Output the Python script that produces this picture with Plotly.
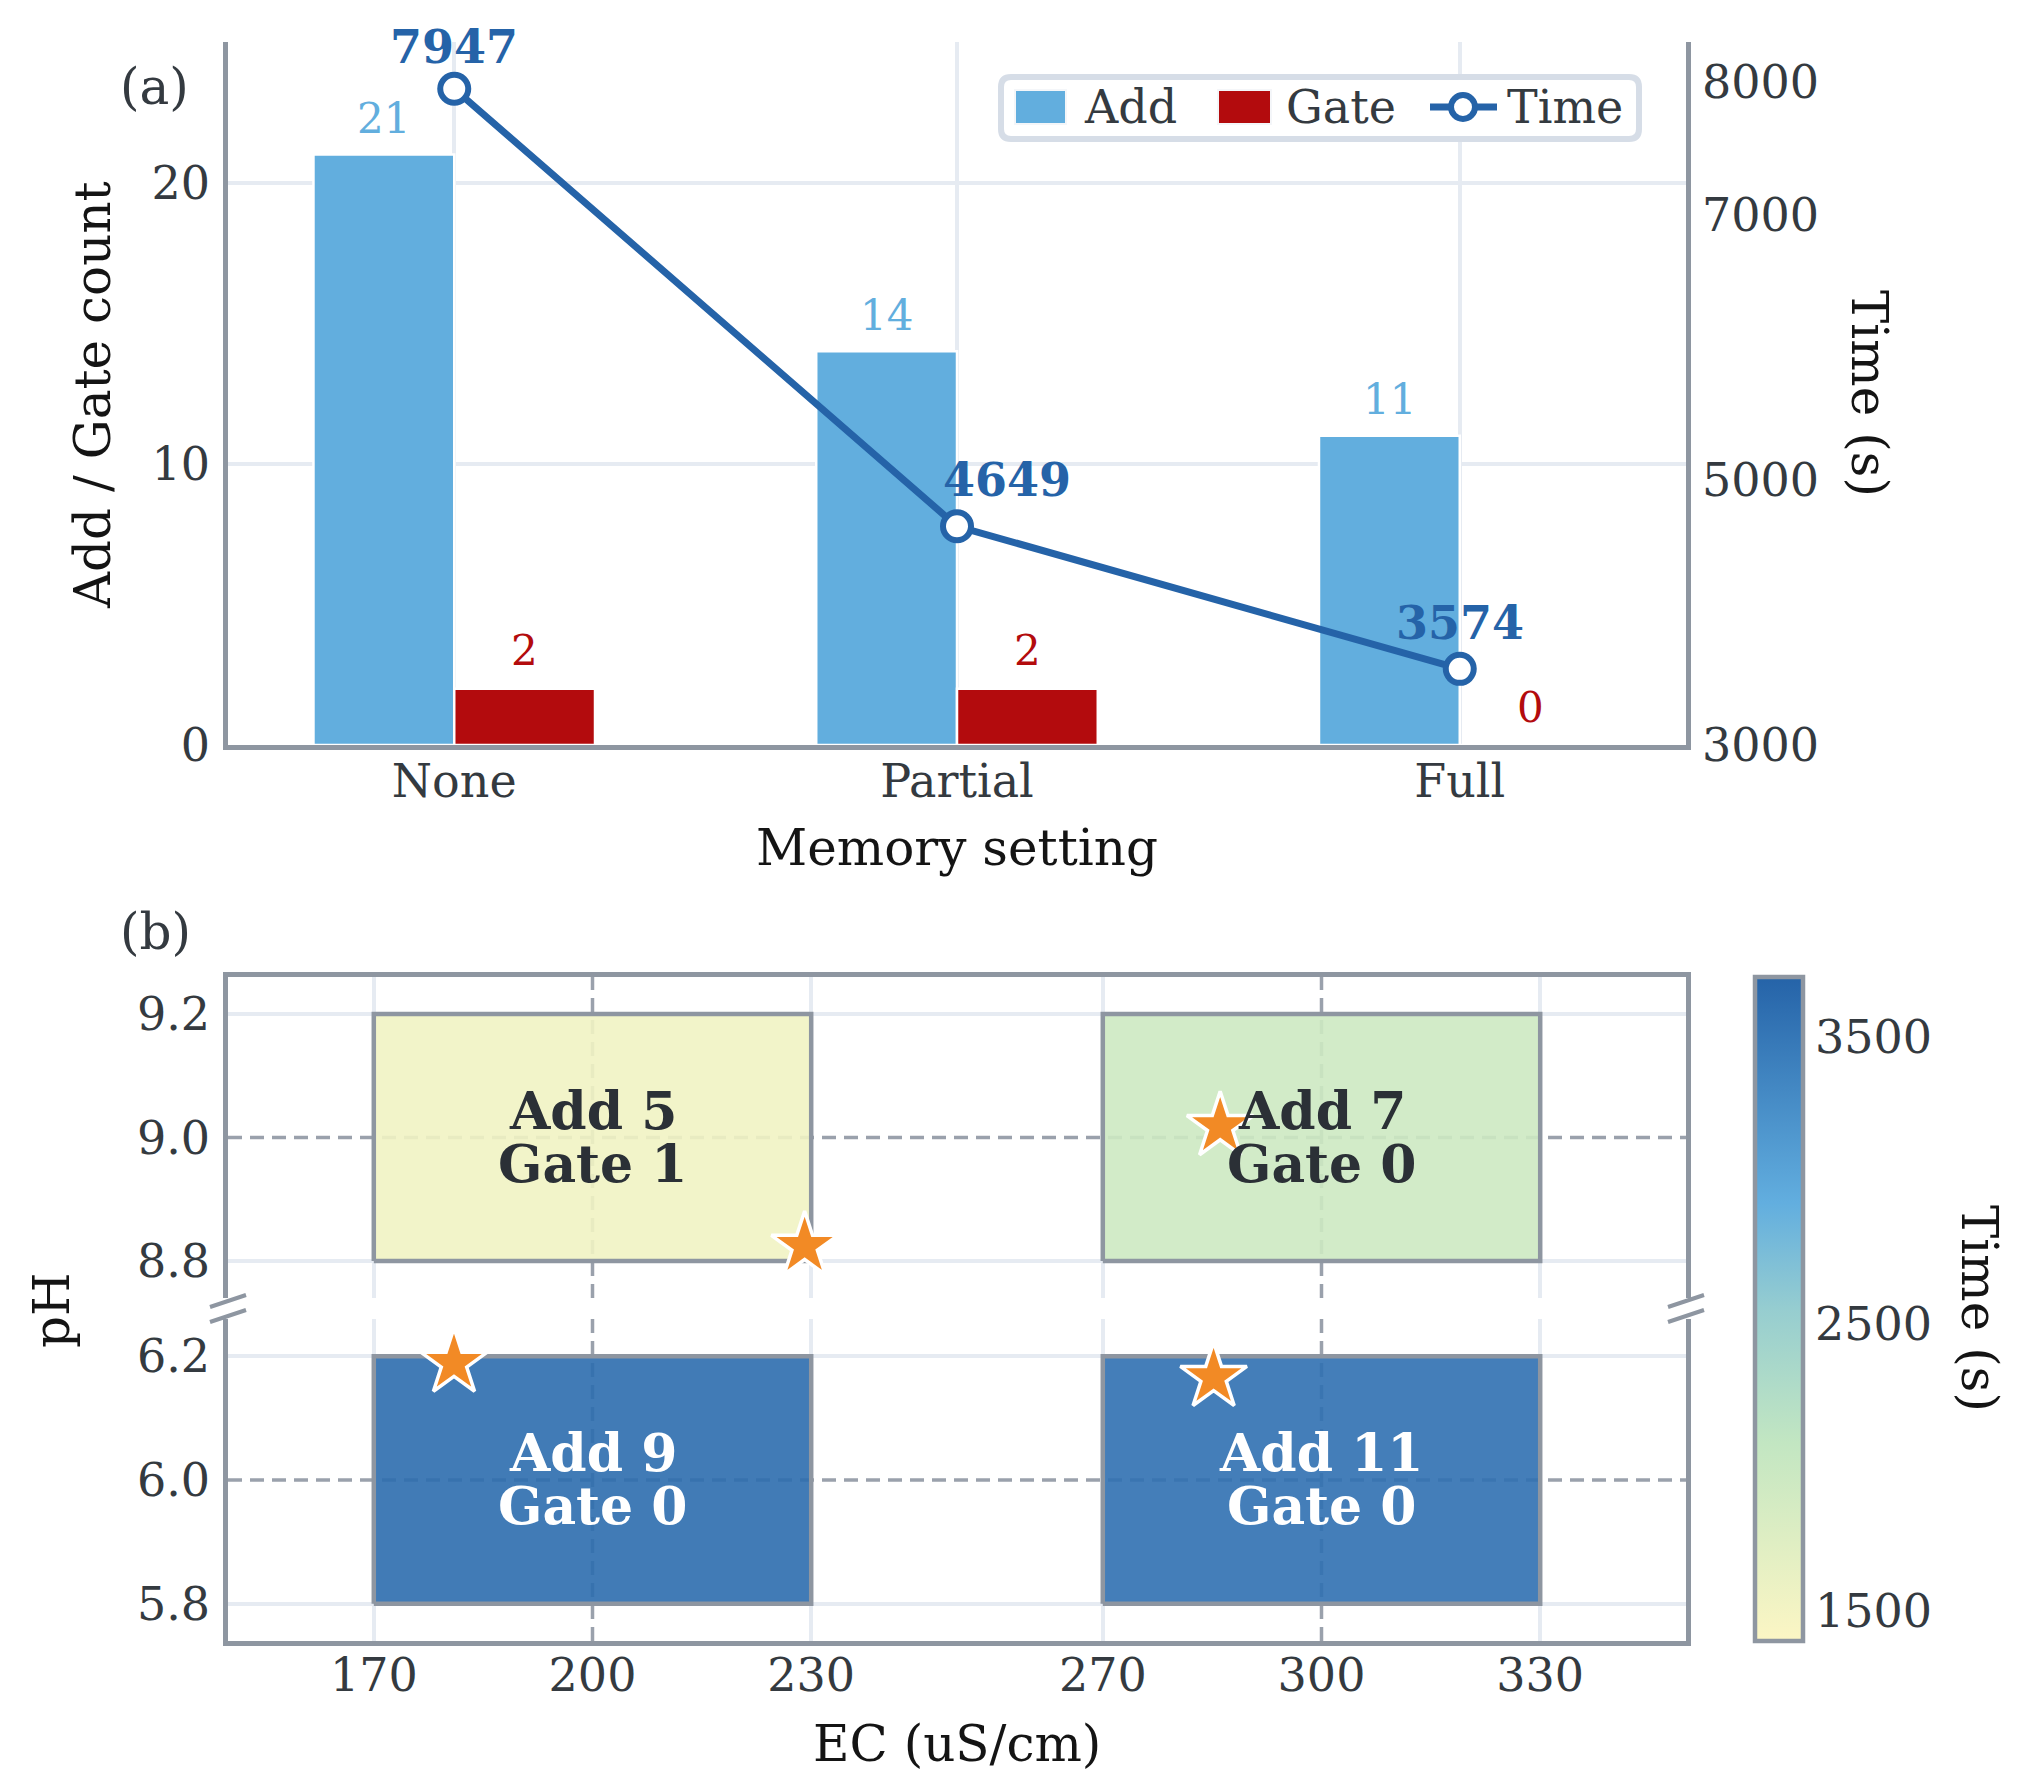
import plotly.graph_objects as go

# panel (a): effect of memory setting
memory = ["None", "Partial", "Full"]
add_count = [21, 14, 11]
gate_count = [2, 2, 0]
time_s = [7947, 4649, 3574]

# panel (b): EC / pH grid
ec_edges = [170, 230, 270, 330]
ph_high = [8.8, 9.2]
ph_low = [5.8, 6.2]
add_high = [5, 7]
gate_high = [1, 0]
time_high = [1530, 1950]
add_low = [9, 11]
gate_low = [0, 0]
time_low = [3610, 3574]
ec_ref = [200, 300]
ph_ref = [9.0, 6.0]
star_ec = [229.1, 181.0, 286.1, 285.2]
star_ph = [8.824, 6.189, 9.018, 6.166]

W, H = 2023, 1792
FONT = "DejaVu Serif"
INK = "#343a40"
TITLE = "#141414"
SPINE = "#8e96a1"
GRID = "#e6ebf2"
DASH = "#9aa1ac"
ADD_C = "#62aede"
GATE_C = "#b30b0d"
TIME_C = "#2563a8"
STAR_C = "#f28a25"
SCALE = [[0.0, "#fcf6c4"], [0.3, "#c2e6c2"], [0.5, "#96cdd0"],
         [0.66, "#62aedf"], [1.0, "#2563a8"]]


def fx(v):
    return v / W


def fy(v):
    return 1 - v / H


XDOM = [fx(228), fx(1686)]
A_DOM = [fy(745), fy(42)]
BU_DOM = [fy(1298), fy(977)]
BL_DOM = [fy(1641), fy(1319)]

fig = go.Figure()

# bars + time line
fig.add_trace(go.Bar(x=memory, y=add_count, name="Add", showlegend=False,
                     marker=dict(color=ADD_C, line=dict(color="white", width=2.5))))
fig.add_trace(go.Bar(x=memory, y=gate_count, name="Gate", showlegend=False,
                     marker=dict(color=GATE_C, line=dict(color="white", width=2.5))))
fig.add_trace(go.Scatter(x=memory, y=time_s, name="Time", yaxis="y2",
                         mode="lines+markers", showlegend=False,
                         line=dict(color=TIME_C, width=7),
                         marker=dict(size=28, color="white",
                                     line=dict(color=TIME_C, width=6))))

ann = []
bw = 0.28
for i, (a, g, t) in enumerate(zip(add_count, gate_count, time_s)):
    ann.append(dict(x=i - bw / 2, y=a, xref="x", yref="y", text=str(a),
                    showarrow=False, yshift=36, yanchor="middle",
                    font=dict(size=42, color=ADD_C)))
    ann.append(dict(x=i + bw / 2, y=g, xref="x", yref="y", text=str(g),
                    showarrow=False, yshift=38, yanchor="middle",
                    font=dict(size=42, color=GATE_C)))
    ann.append(dict(x=i, y=t, xref="x", yref="y2", text="<b>%d</b>" % t,
                    showarrow=False, yshift=[42, 46, 46][i], xshift=[0, 50, 0][i],
                    yanchor="middle", font=dict(size=46, color=TIME_C)))

# panel (b) cells
bands = [(ph_high, add_high, gate_high, time_high, "x2", "y3"),
         (ph_low, add_low, gate_low, time_low, "x3", "y4")]
for ph, adds, gates, times, xa, ya in bands:
    fig.add_trace(go.Heatmap(x=ec_edges, y=ph, z=[[times[0], None, times[1]]],
                             coloraxis="coloraxis", opacity=0.9,
                             hoverongaps=False, xaxis=xa, yaxis=ya))
    for j in range(2):
        x0, x1 = ec_edges[2 * j], ec_edges[2 * j + 1]
        fig.add_trace(go.Scatter(x=[x0, x1, x1, x0, x0],
                                 y=[ph[0], ph[0], ph[1], ph[1], ph[0]],
                                 mode="lines", line=dict(color=SPINE, width=4.5),
                                 showlegend=False, hoverinfo="skip",
                                 xaxis=xa, yaxis=ya))
        dark = times[j] > 3000
        col = "white" if dark else "#2b3036"
        cx, cy = (x0 + x1) / 2, (ph[0] + ph[1]) / 2
        for txt, dy in [("<b>Add %d</b>" % adds[j], 28),
                        ("<b>Gate %d</b>" % gates[j], -25)]:
            ann.append(dict(x=cx, y=cy, xref=xa, yref=ya, showarrow=False,
                            text=txt, yshift=dy, height=50,
                            xanchor="center", yanchor="middle",
                            font=dict(size=52, color=col)))

for xa, ya, hi in [("x2", "y3", True), ("x3", "y4", False)]:
    sx = [e for e, p in zip(star_ec, star_ph) if (p > 7) == hi]
    sy = [p for p in star_ph if (p > 7) == hi]
    fig.add_trace(go.Scatter(x=sx, y=sy, mode="markers", showlegend=False,
                             marker=dict(symbol="star", size=50, color=STAR_C,
                                         line=dict(color="white", width=3.5)),
                             xaxis=xa, yaxis=ya))

dash_line = dict(color=DASH, width=3.5, dash="14px,8px")
shapes = []
for v in ec_ref:
    for xa, ya in [("x2", "y3 domain"), ("x3", "y4 domain")]:
        shapes.append(dict(type="line", xref=xa, yref=ya, x0=v, x1=v, y0=0, y1=1,
                           layer="below", line=dash_line))
for v, xa, ya in [(ph_ref[0], "x2 domain", "y3"), (ph_ref[1], "x3 domain", "y4")]:
    shapes.append(dict(type="line", xref=xa, yref=ya, x0=0, x1=1, y0=v, y1=v,
                       layer="below", line=dash_line))
# broken-axis marks
for sxp in [228, 1686]:
    for yc in [1301, 1316]:
        shapes.append(dict(type="line", xref="paper", yref="paper",
                           x0=fx(sxp - 18), y0=fy(yc + 6), x1=fx(sxp + 18), y1=fy(yc - 6),
                           line=dict(color=SPINE, width=4)))

# legend box (drawn by hand so the patches match the reference size)
lx0, lx1, ly0, ly1, r = 1001, 1639, 77, 139, 10
box = ("M {a},{b} L {c},{b} Q {d},{b} {d},{e} L {d},{f} Q {d},{g} {c},{g} "
       "L {a},{g} Q {h},{g} {h},{f} L {h},{e} Q {h},{b} {a},{b} Z").format(
    a=fx(lx0 + r), b=fy(ly0), c=fx(lx1 - r), d=fx(lx1), e=fy(ly0 + r),
    f=fy(ly1 - r), g=fy(ly1), h=fx(lx0))
shapes.append(dict(type="path", xref="paper", yref="paper", path=box,
                   fillcolor="white", line=dict(color="#d6dde7", width=6)))
ly = 107
for x0, x1, c in [(1015, 1066, ADD_C), (1218, 1271, GATE_C)]:
    shapes.append(dict(type="rect", xref="paper", yref="paper",
                       x0=fx(x0), x1=fx(x1), y0=fy(ly - 17), y1=fy(ly + 17),
                       fillcolor=c, line=dict(color="#f4f6f9", width=2)))
shapes.append(dict(type="line", xref="paper", yref="paper",
                   x0=fx(1430), x1=fx(1497), y0=fy(ly), y1=fy(ly),
                   line=dict(color=TIME_C, width=7)))
shapes.append(dict(type="circle", xref="paper", yref="paper",
                   x0=fx(1463 - 12), x1=fx(1463 + 12), y0=fy(ly - 12), y1=fy(ly + 12),
                   fillcolor="white", line=dict(color=TIME_C, width=6)))


# titles, panel letters, legend labels
def label(text, x, y, angle=0, size=50, color=TITLE, xanchor="center"):
    ann.append(dict(text=text, x=fx(x), y=fy(y), xref="paper", yref="paper",
                    showarrow=False, textangle=angle, xanchor=xanchor,
                    yanchor="middle", font=dict(size=size, color=color)))


label("Add / Gate count", 93, 395, -90)
label("Time (s)", 1869, 393, 90)
label("Memory setting", 957, 848)
label("(a)", 154, 87, color=INK)
label("(b)", 155, 932, color=INK)
label("pH", 52, 1310, -90)
label("EC (uS/cm)", 957, 1744)
label("Time (s)", 1979, 1308, 90)
label("Add", 1082, ly, size=46, color=INK, xanchor="left")
label("Gate", 1284, ly, size=46, color=INK, xanchor="left")
label("Time", 1505, ly, size=46, color=INK, xanchor="left")

tick_font = dict(size=46, color=INK, family=FONT)
common = dict(ticks="", ticklen=0, tickfont=tick_font, linecolor=SPINE,
              linewidth=4.5, gridcolor=GRID, gridwidth=4, zeroline=False,
              showline=True, automargin=False)
ec_ticks = [170, 200, 230, 270, 300, 330]
ec_grid = dict(tickvals=[v for v in ec_ticks if v not in ec_ref], showgrid=True,
               gridcolor=GRID, gridwidth=4, ticks="")

fig.update_layout(
    width=W, height=H,
    margin=dict(l=0, r=0, t=0, b=0, pad=0, autoexpand=False),
    paper_bgcolor="white", plot_bgcolor="white",
    font=dict(family=FONT, color=INK),
    showlegend=False,
    barmode="group", bargap=0.44, bargroupgap=0,
    xaxis=dict(domain=XDOM, anchor="y", range=[-0.45, 2.45], showgrid=True,
               ticklabelstandoff=-8, **common),
    yaxis=dict(domain=A_DOM, anchor="x", range=[0, 25], tickvals=[0, 10, 20],
               showgrid=True, ticklabelstandoff=4, **common),
    yaxis2=dict(overlaying="y", side="right", anchor="x", range=[3000, 8300],
                tickvals=[3000, 5000, 7000, 8000], showgrid=False,
                ticklabelstandoff=2, **common),
    xaxis2=dict(domain=XDOM, anchor="y3", range=[150, 350], tickvals=ec_ticks,
                side="top", showticklabels=False, showgrid=False,
                minor=ec_grid, **common),
    yaxis3=dict(domain=BU_DOM, anchor="x2", range=[8.74, 9.26],
                tickvals=[8.8, 9.0, 9.2], tickformat=".1f", mirror=True,
                showgrid=False, ticklabelstandoff=4,
                minor=dict(tickvals=[8.8, 9.2], showgrid=True, gridcolor=GRID,
                           gridwidth=4, ticks=""), **common),
    xaxis3=dict(domain=XDOM, anchor="y4", range=[150, 350], matches="x2",
                tickvals=ec_ticks, showgrid=False, minor=ec_grid,
                ticklabelstandoff=-10, **common),
    yaxis4=dict(domain=BL_DOM, anchor="x3", range=[5.74, 6.26],
                tickvals=[5.8, 6.0, 6.2], tickformat=".1f", mirror=True,
                showgrid=False, ticklabelstandoff=4,
                minor=dict(tickvals=[5.8, 6.2], showgrid=True, gridcolor=GRID,
                           gridwidth=4, ticks=""), **common),
    coloraxis=dict(cmin=1395, cmax=3710, colorscale=SCALE,
                   colorbar=dict(x=fx(1755), xanchor="left", xpad=0, ypad=0,
                                 y=fy(1309), yanchor="middle",
                                 len=(1641 - 977) / H, lenmode="fraction",
                                 thickness=48, outlinewidth=4.5, outlinecolor=SPINE,
                                 tickvals=[1500, 2500, 3500], ticks="",
                                 tickfont=tick_font)),
    annotations=ann,
    shapes=shapes,
)

page_fix = ("document.body.style.margin='0';"
            "document.body.style.overflow='hidden';")
fig.write_html("out.html", config={"displayModeBar": False}, post_script=page_fix)
